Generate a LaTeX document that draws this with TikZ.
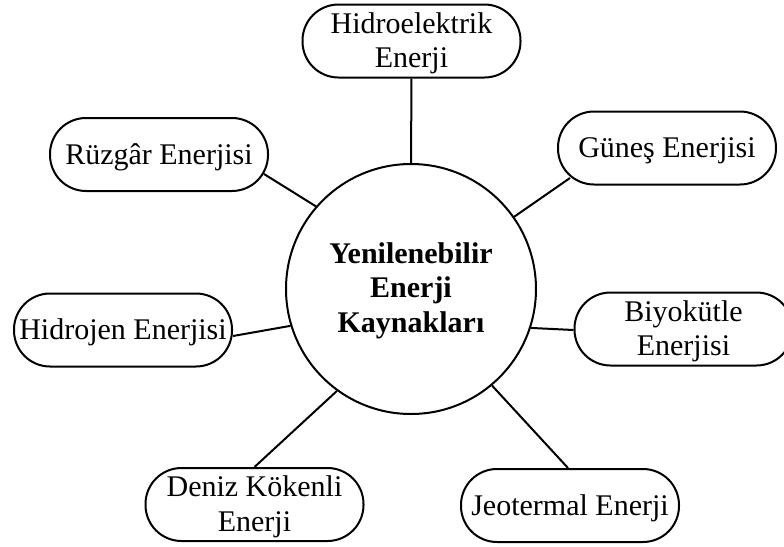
\documentclass[tikz,border=0pt]{standalone}
\usepackage{fontspec}
\setmainfont{Liberation Serif}
\newcommand\myTop{\rule{0pt}{14pt}}
\newcommand\myBot{\rule[-4.5pt]{0pt}{4.5pt}}
\newcommand\myBotC{\rule[-5.5pt]{0pt}{5.5pt}}
\begin{document}
\begin{tikzpicture}[x=0.5pt,y=-0.5pt,
  every node/.style={font=\fontsize{15}{17.25}\selectfont},
  leaf/.style={draw,line width=1pt,rounded corners=18pt,minimum width=109pt,minimum height=36.5pt,inner sep=0pt,align=center},
  hub/.style={draw,circle,line width=1pt,minimum size=125pt,inner sep=0pt,align=center,font=\fontsize{15}{17.25}\selectfont\bfseries},
  link/.style={line width=1pt}]
\useasboundingbox (0,0) rectangle (784,547);
\fill[white] (0,0) rectangle (784,547);
\node[hub] (c) at (411,289) {\myTop Yenilenebilir\\Enerji\\Kaynakları\myBotC};
\node[leaf] (hid) at (411.5,41) {\myTop Hidroelektrik\\Enerji\myBot};
\node[leaf] (ruz) at (159,154.5) {\myTop Rüzgâr Enerjisi\myBot};
\node[leaf] (gun) at (667,148) {\myTop Güneş Enerjisi\myBot};
\node[leaf] (hdj) at (123,330) {\myTop Hidrojen Enerjisi\myBot};
\node[leaf] (biy) at (683.5,329) {\myTop Biyokütle\\Enerjisi\myBot};
\node[leaf] (den) at (254.5,504.5) {\myTop Deniz Kökenli\\Enerji\myBot};
\node[leaf] (jeo) at (570,505.5) {\myTop Jeotermal Enerji\myBot};
\draw[link] (c.90) -- (hid.south);
\draw[link] (c.139.6) -- ([shift={(105,19.5)}]ruz.center);
\draw[link] (c.35.6) -- ([shift={(-97,30)}]gun.center);
\draw[link] (c.197.4) -- ([shift={(0,6)}]hdj.east);
\draw[link] (c.342.6) -- ([shift={(0,1)}]biy.west);
\draw[link] (c.234.3) -- (den.north);
\draw[link] (c.310.2) -- ([shift={(-2,0)}]jeo.north);
\end{tikzpicture}
\end{document}
